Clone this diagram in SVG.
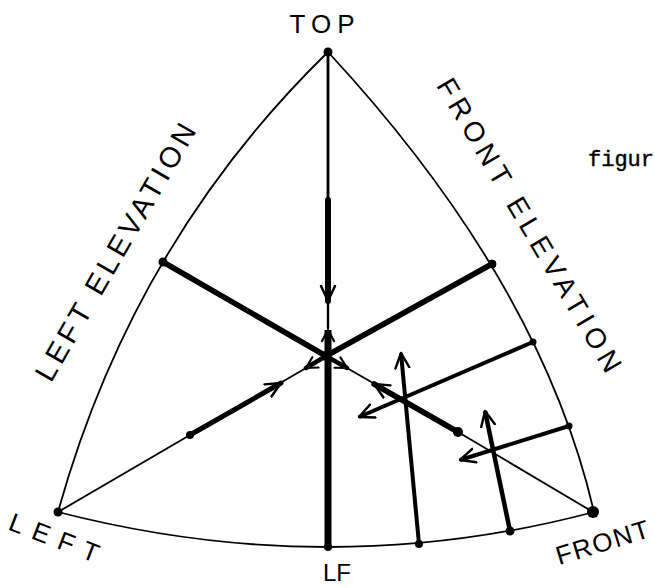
<svg xmlns="http://www.w3.org/2000/svg" width="655" height="588" viewBox="0 0 655 588">
<style>
.bg{fill:#fff}
.arc{fill:none;stroke:#000;stroke-width:1.8;stroke-linecap:round}
.thin{fill:none;stroke:#000;stroke-width:1.8;stroke-linecap:round}
.med{fill:none;stroke:#000;stroke-width:2.8;stroke-linecap:round}
.thick{fill:none;stroke:#000;stroke-width:5.5;stroke-linecap:round}
.xthick{fill:none;stroke:#000;stroke-width:7;stroke-linecap:butt}
.arw{fill:none;stroke:#000;stroke-width:4;stroke-linecap:butt}
.dot{fill:#000}
.lbl{font-family:"Liberation Sans","DejaVu Sans",sans-serif;fill:#000}
.typ{font-family:"Liberation Mono","DejaVu Sans Mono",monospace;fill:#000;stroke:#000;stroke-width:0.4}
</style>
<defs>
<marker id="ah" viewBox="-16 -9 18 18" markerWidth="18" markerHeight="18" refX="0" refY="0" orient="auto" markerUnits="userSpaceOnUse">
<path d="M-15,-7 L0,0 L-15,7" fill="none" stroke="#000" stroke-width="2.4" stroke-linejoin="round" stroke-linecap="round"/>
</marker>
<marker id="ahs" viewBox="-13 -8 15 16" markerWidth="15" markerHeight="16" refX="0" refY="0" orient="auto" markerUnits="userSpaceOnUse">
<path d="M-11,-6 L0,0 L-11,6" fill="none" stroke="#000" stroke-width="2.2" stroke-linejoin="round" stroke-linecap="round"/>
</marker>
</defs>
<rect class="bg" x="0" y="0" width="655" height="588"/>

<g id="connectors">
<!-- triangle arcs -->
<path class="arc" d="M328,52 Q133,242 58,512"/>
<path class="arc" d="M328,52 Q541,282 594,512"/>
<path class="arc" d="M58,512 Q330,582 594,512"/>
<!-- vertical axis -->
<path class="med" d="M328,52 L328,200"/>
<path class="thick" style="stroke-width:6" d="M328,200 L328,301" marker-end="url(#ah)"/>
<path class="thin" style="stroke-width:2.4" d="M328,302 L328,328"/>
<path class="xthick" d="M328,547 L328,330" marker-end="url(#ahs)"/>
<!-- diagonals from elevations -->
<path class="thick" d="M163,262 L326,356"/>
<path class="thick" d="M326,356 L492,264"/>
<!-- left thin line with arrows -->
<path class="thin" d="M58,512 L190,435"/>
<path class="thick" style="stroke-width:5" d="M190,435 L281,383" marker-end="url(#ah)"/>
<path class="thin" d="M282,382 L306,368"/>
<path class="thick" style="stroke-width:4.5" d="M326,356 L306,368" marker-end="url(#ahs)"/>
<!-- diagonal toward FRONT -->
<path class="thick" style="stroke-width:4.5" d="M326,356 L347,368" marker-end="url(#ahs)"/>
<path class="thin" d="M347,368 L373,383"/>
<path class="thick" d="M458,432 L374,384" marker-end="url(#ah)"/>
<path class="thin" d="M458,432 L593,512"/>
<!-- right side arrows -->
<path class="arw" d="M419,544 L401,353" marker-end="url(#ah)"/>
<path class="arw" d="M533,342 L359,417" marker-end="url(#ah)"/>
<path class="arw" style="stroke-width:4.5" d="M510,531 L485,411" marker-end="url(#ah)"/>
<path class="arw" d="M569,426 L460,460" marker-end="url(#ah)"/>
</g>

<g id="node-top"><circle class="dot" cx="328" cy="52" r="4.5"/><text class="lbl" x="325" y="33" font-size="26" text-anchor="middle" letter-spacing="6">TOP</text></g>
<g id="node-left"><circle class="dot" cx="58" cy="512" r="4.5"/><text class="lbl" transform="translate(51,546) rotate(21)" font-size="26" text-anchor="middle" textLength="94" lengthAdjust="spacing">LEFT</text></g>
<g id="node-front"><circle class="dot" cx="593" cy="512" r="6"/><text class="lbl" transform="translate(605,551) rotate(-17)" font-size="26" text-anchor="middle" textLength="96" lengthAdjust="spacing">FRONT</text></g>
<g id="node-lf"><circle class="dot" cx="328" cy="547" r="4"/><text class="lbl" x="337" y="581" font-size="24" text-anchor="middle">LF</text></g>
<g id="node-left-elevation"><circle class="dot" cx="163" cy="262" r="4.5"/><text class="lbl" transform="translate(124,257) rotate(-60)" font-size="29" text-anchor="middle" textLength="292" lengthAdjust="spacing">LEFT ELEVATION</text></g>
<g id="node-front-elevation"><circle cx="492" cy="264" r="4" fill="#000" stroke="#000" stroke-width="1"/><text class="lbl" transform="translate(521,230) rotate(59.5)" font-size="28" text-anchor="middle" textLength="336" lengthAdjust="spacing">FRONT ELEVATION</text></g>
<g id="node-center"><circle class="dot" cx="326" cy="356" r="5"/></g>
<g id="node-p1"><circle class="dot" cx="190" cy="435" r="4"/></g>
<g id="node-p2"><circle class="dot" cx="458" cy="432" r="5"/></g>
<g id="node-p3"><circle class="dot" cx="533" cy="342" r="3.5"/></g>
<g id="node-p4"><circle class="dot" cx="569" cy="426" r="3.5"/></g>
<g id="node-p5"><circle class="dot" cx="419" cy="544" r="4"/></g>
<g id="node-p6"><circle class="dot" cx="510" cy="531" r="4.5"/></g>
<g id="caption"><text class="typ" x="588" y="166" font-size="22">figur</text></g>
</svg>
